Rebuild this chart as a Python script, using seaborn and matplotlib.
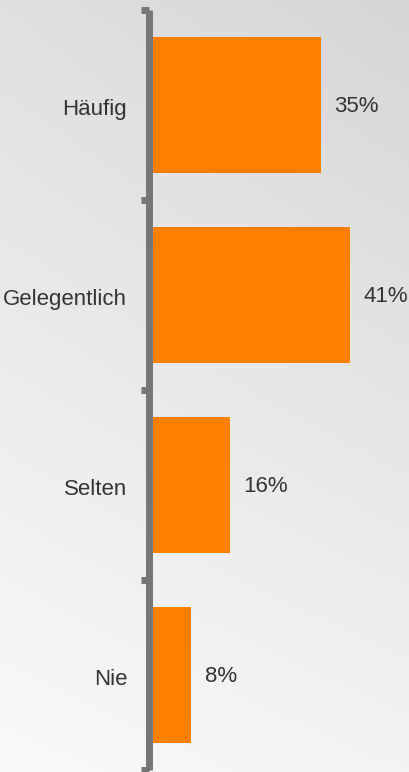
import numpy as np
import pandas as pd
import seaborn as sns
import matplotlib.pyplot as plt
from matplotlib.ticker import FixedLocator, NullLocator
from matplotlib.transforms import ScaledTranslation

categories = ['Häufig', 'Gelegentlich', 'Selten', 'Nie']
shares = [35, 41, 16, 8]
value_labels = ['35%', '41%', '16%', '8%']

ORANGE = '#FF7F00'
AXIS_GRAY = '#767676'
TEXT = '#333333'

df = pd.DataFrame({'category': categories, 'share': shares})

sns.set_theme(style='white')
plt.rcParams['font.family'] = ['Liberation Sans', 'DejaVu Sans']

fig = plt.figure(figsize=(4.09, 7.72), dpi=100)

# diagonal grey gradient in the background
bg = fig.add_axes([0, 0, 1, 1], zorder=-1)
yy, xx = np.mgrid[0:1:200j, 0:1:100j]
shade = 0.875 + 0.10 * yy - 0.04 * xx + 0.015 * xx * yy
bg.imshow(np.clip(shade, 0, 1), cmap='gray', vmin=0, vmax=1, aspect='auto',
          extent=[0, 1, 0, 1], origin='upper')
bg.axis('off')

W, H = 409, 772
ax = fig.add_axes([153 / W, 2 / H, 240 / W, 760 / H])
ax.patch.set_alpha(0)

sns.barplot(data=df, x='share', y='category', color=ORANGE, width=0.716,
            saturation=1, ax=ax, edgecolor='none')

ax.set_xlim(0, 50)
ax.set_ylim(len(categories) - 0.5, -0.5)
ax.set_xlabel('')
ax.set_ylabel('')
ax.xaxis.set_major_locator(NullLocator())

for s in ['top', 'right', 'bottom']:
    ax.spines[s].set_visible(False)
ax.spines['left'].set_color(AXIS_GRAY)
ax.spines['left'].set_linewidth(5)
ax.spines['left'].set_position(('outward', 2.6))
ax.spines['left'].set_capstyle('butt')

# small stubs at category boundaries
ax.yaxis.set_minor_locator(FixedLocator(np.arange(-0.5, len(categories), 1.0)))
ax.tick_params(axis='y', which='minor', left=True, length=5.5, width=5,
               color=AXIS_GRAY)
ax.tick_params(axis='y', which='major', left=False, length=0, pad=16,
               labelsize=16, labelcolor=TEXT)

shift = ScaledTranslation(0, -2 / 100, fig.dpi_scale_trans)
for lab in ax.get_yticklabels():
    lab.set_transform(lab.get_transform() + shift)

for i, (v, lab) in enumerate(zip(shares, value_labels)):
    ax.text(v + 2.8, i, lab, va='center', ha='left', fontsize=16, color=TEXT,
            transform=ax.transData + shift)

fig.savefig('out.png', dpi=100)
